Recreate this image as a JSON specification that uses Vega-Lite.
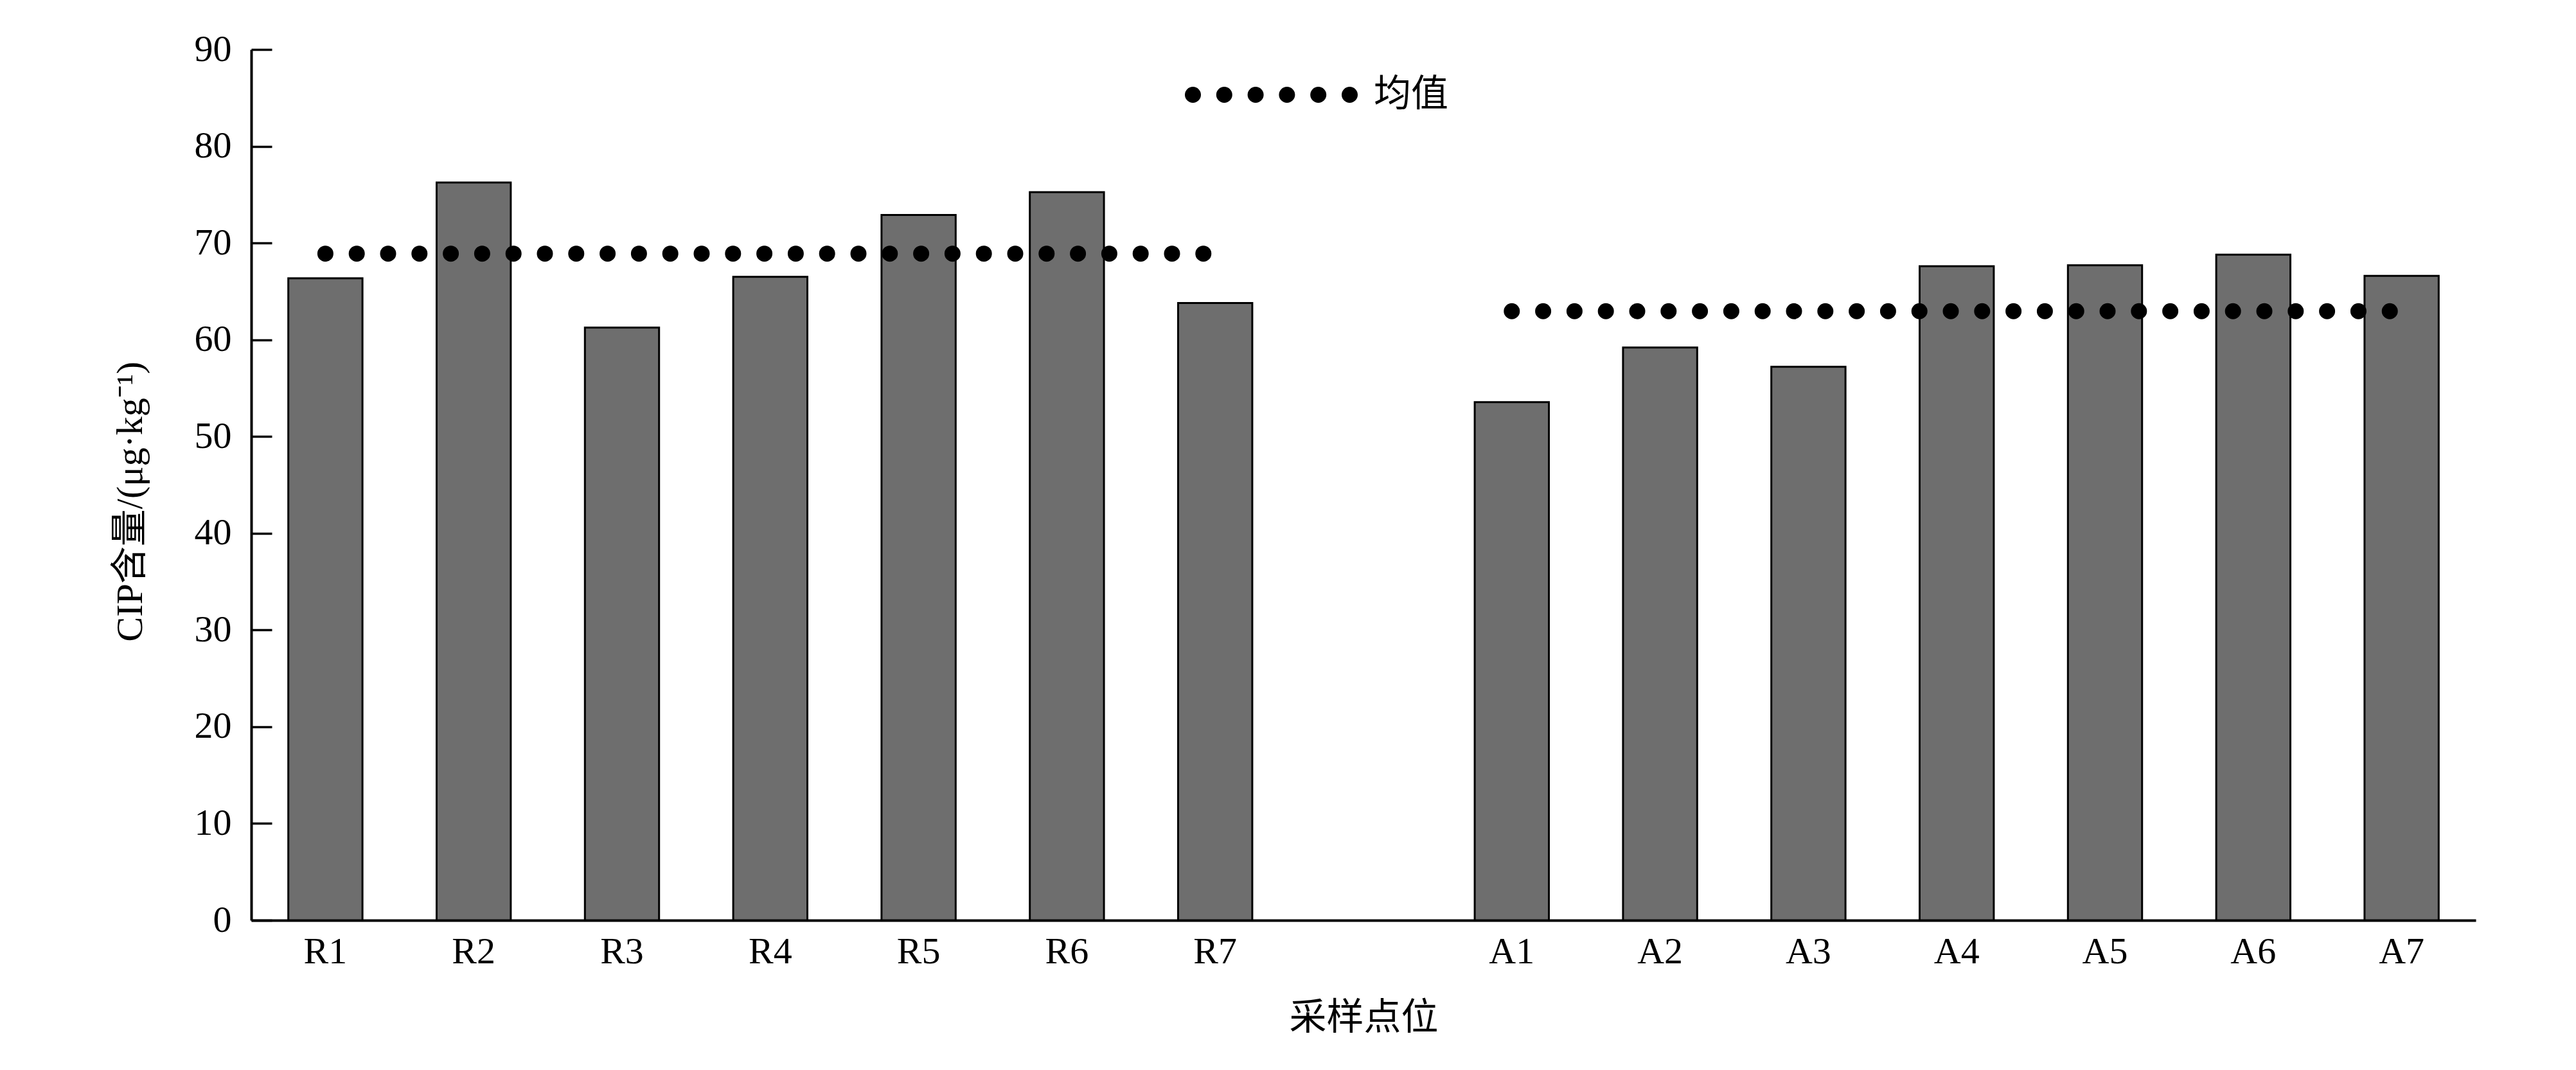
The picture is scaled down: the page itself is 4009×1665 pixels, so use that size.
{
  "$schema": "https://vega.github.io/schema/vega-lite/v6.json",
  "autosize": "none",
  "width": 3462,
  "height": 1355,
  "padding": {"left": 391, "top": 77, "right": 156, "bottom": 233},
  "background": "white",
  "datasets": {
    "bars": [
      {"site": "R1", "value": 66.35},
      {"site": "R2", "value": 76.25},
      {"site": "R3", "value": 61.25},
      {"site": "R4", "value": 66.5},
      {"site": "R5", "value": 72.9},
      {"site": "R6", "value": 75.25},
      {"site": "R7", "value": 63.8},
      {"site": "A1", "value": 53.55},
      {"site": "A2", "value": 59.2},
      {"site": "A3", "value": 57.2},
      {"site": "A4", "value": 67.6},
      {"site": "A5", "value": 67.7},
      {"site": "A6", "value": 68.8},
      {"site": "A7", "value": 66.6}
    ],
    "means": [
      {"label": "均值", "start": "R1", "end": "R7", "mean": 68.9},
      {"label": "均值", "start": "A1", "end": "A7", "mean": 62.95}
    ]
  },
  "config": {
    "view": {"stroke": null},
    "font": "Liberation Serif, Noto Sans CJK SC",
    "axis": {
      "labelFont": "Liberation Serif, Noto Sans CJK SC",
      "titleFont": "Liberation Serif, Noto Sans CJK SC",
      "labelColor": "black",
      "titleColor": "black",
      "labelFontSize": 58,
      "titleFontSize": 58,
      "titleFontWeight": "normal",
      "domainColor": "black",
      "domainWidth": 4,
      "tickColor": "black",
      "grid": false
    }
  },
  "layer": [
    {
      "data": {"name": "bars"},
      "mark": {"type": "bar", "fill": "#6e6e6e", "stroke": "black", "strokeWidth": 3},
      "encoding": {
        "x": {
          "field": "site",
          "type": "nominal",
          "sort": null,
          "scale": {
            "domain": ["R1", "R2", "R3", "R4", "R5", "R6", "R7", "", "A1", "A2", "A3", "A4", "A5", "A6", "A7"],
            "paddingInner": 0.5,
            "paddingOuter": 0.25
          },
          "axis": {
            "title": "采样点位",
            "labelAngle": 0,
            "ticks": false,
            "tickSize": 0,
            "labelPadding": 20,
            "titlePadding": 45
          }
        },
        "y": {
          "field": "value",
          "type": "quantitative",
          "scale": {"domain": [0, 90], "nice": false, "zero": true},
          "axis": {
            "title": "CIP含量/(μg·kg⁻¹)",
            "values": [0, 10, 20, 30, 40, 50, 60, 70, 80, 90],
            "tickSize": -32,
            "tickWidth": 3.5,
            "labelPadding": 63,
            "titlePadding": 70,
            "titleY": 703
          }
        }
      }
    },
    {
      "data": {"name": "means"},
      "mark": {"type": "rule", "strokeWidth": 25, "strokeCap": "round", "strokeDash": [0, 48.8]},
      "encoding": {
        "x": {"field": "start", "type": "nominal"},
        "x2": {"field": "end"},
        "y": {"field": "mean", "type": "quantitative"},
        "color": {
          "field": "label",
          "type": "nominal",
          "scale": {"range": ["black"]},
          "legend": {
            "title": null,
            "orient": "none",
            "legendX": 1453,
            "legendY": -67,
            "padding": 0,
            "symbolType": "stroke",
            "symbolSize": 62500,
            "symbolStrokeWidth": 25,
            "symbolDash": [0, 48.8],
            "labelFont": "Liberation Serif, Noto Sans CJK SC",
            "labelFontSize": 58,
            "labelColor": "black",
            "labelOffset": 19,
            "encode": {"symbols": {"update": {"strokeCap": {"value": "round"}}}}
          }
        }
      }
    }
  ]
}
